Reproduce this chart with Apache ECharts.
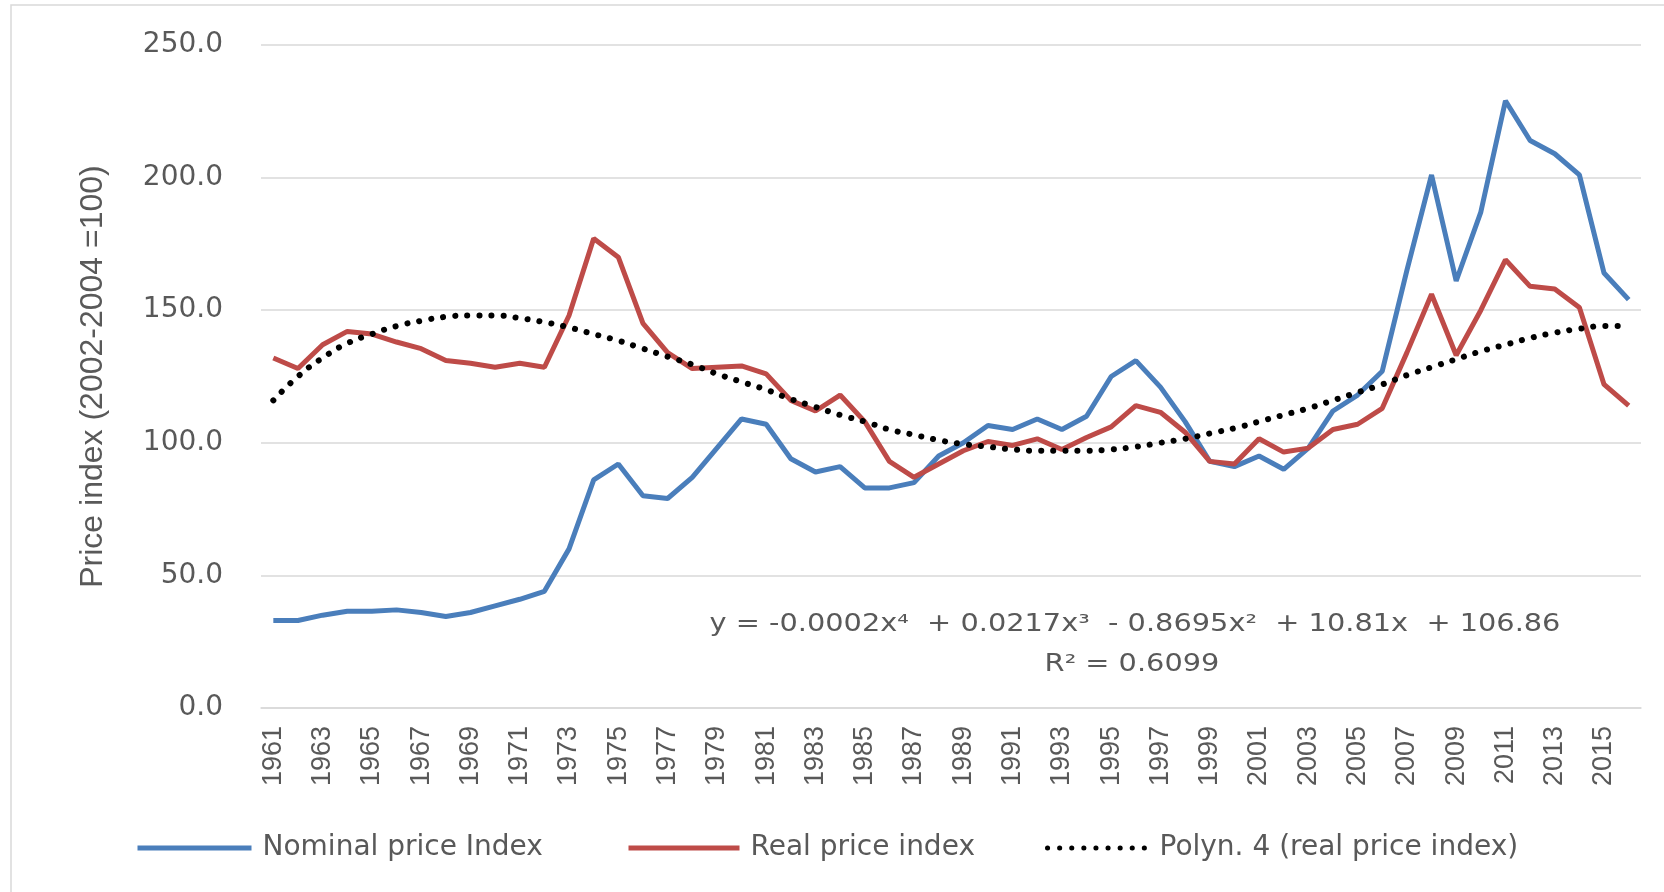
<!DOCTYPE html>
<html>
<head>
<meta charset="utf-8">
<title>Price index</title>
<script src="https://cdn.jsdelivr.net/npm/echarts@6/dist/echarts.min.js"></script>
<style>
  html, body { margin: 0; padding: 0; background: #fff; }
  #line-chart { width: 1664px; height: 892px; }
</style>
</head>
<body>
<div id="line-chart"></div>
<script>
var years = [];
for (var y = 1961; y <= 2016; y++) years.push(String(y));

var yTicks = [0, 50, 100, 150, 200, 250];

// Nominal price Index
var nominal = [33, 33, 35, 36.5, 36.5, 37, 36, 34.5, 36, 38.5,
    41, 44, 60, 86, 92, 80, 79, 87, 98, 109,
    107, 94, 89, 91, 83, 83, 85, 95, 100, 106.5,
    105, 109, 105, 110, 125, 131, 121, 108, 93, 91,
    95, 90, 98, 112, 118, 127, 165, 201, 161, 187,
    229, 214, 209, 201, 164, 154];

// Real price index
var real = [132, 128, 137, 142, 141, 138, 135.5, 131, 130, 128.5,
    130, 128.5, 148, 177, 170, 145, 134, 128, 128.5, 129,
    126, 116, 112, 118, 108, 93, 87, 92, 97, 100.5,
    99, 101.5, 97.5, 102, 106, 114, 111.5, 104, 93, 92,
    101.5, 96.5, 98, 105, 107, 113, 134, 156, 133, 150,
    169, 159, 158, 151, 122, 114];

// Polyn. 4 trend
var trend = [116, 125, 132, 137.5, 141, 144, 146, 147.5, 148, 148,
    147, 145.5, 143.5, 141, 138.5, 135.5, 132.5, 129.5, 126, 123,
    120, 116.5, 113.5, 110.5, 108, 105, 103, 101, 99.5, 98.5,
    97.5, 97, 97, 97, 97.5, 98.5, 100, 101.5, 103.5, 105.5,
    108, 110.5, 113, 116, 119, 122, 125.5, 128.5, 131.5, 134.5,
    137, 139.5, 141.5, 143, 144, 144];

var seriesNames = ['Nominal price Index', 'Real price index', 'Polyn. 4 (real price index)'];
var eqText = 'y = -0.0002x\u2074  + 0.0217x\u00b3  - 0.8695x\u00b2  + 10.81x  + 106.86';
var r2Text = 'R\u00b2 = 0.6099';

var GREY = '#595959';
var WIDE = "'DejaVu Sans', Verdana, sans-serif";
var NARROW = "'Liberation Sans Narrow', 'Liberation Sans', sans-serif";

function legendItem(name, left, width) {
    return {
        data: [name],
        bottom: 30,
        left: left,
        padding: 0,
        itemWidth: width,
        itemHeight: 10,
        itemStyle: { opacity: 0 },
        lineStyle: { width: 5 },
        textStyle: {
            color: GREY,
            fontFamily: WIDE,
            fontSize: 28,
            padding: [0, 0, 0, 6]
        }
    };
}

function LineChart() {
    var dom = document.getElementById('line-chart');
    var myChart = echarts.init(dom);
    var option = {
        animation: false,
        color: ['#4a7ebb', '#be4b48', '#000000'],
        grid: {
            left: 261,
            right: 23,
            top: 45,
            bottom: 184
        },
        legend: [
            legendItem(seriesNames[0], 135, 114),
            legendItem(seriesNames[1], 626, 111),
            legendItem(seriesNames[2], 1045, 101)
        ],
        xAxis: {
            type: 'category',
            data: years,
            boundaryGap: true,
            axisLine: { lineStyle: { color: '#d9d9d9', width: 1.5 } },
            axisTick: { show: false },
            axisLabel: {
                interval: 1,
                rotate: 90,
                margin: 18,
                color: GREY,
                fontFamily: NARROW,
                fontSize: 27
            }
        },
        yAxis: {
            type: 'value',
            min: yTicks[0],
            max: yTicks[yTicks.length - 1],
            interval: 50,
            name: 'Price index (2002-2004 =100)',
            nameLocation: 'middle',
            nameGap: 152,
            nameTextStyle: {
                color: GREY,
                fontFamily: NARROW,
                fontSize: 32
            },
            axisLine: { show: false },
            axisTick: { show: false },
            splitLine: { lineStyle: { color: '#d9d9d9', width: 1.5 } },
            axisLabel: {
                margin: 38,
                color: GREY,
                fontFamily: WIDE,
                fontSize: 28,
                formatter: function (v) { return v.toFixed(1); }
            }
        },
        series: [{
            name: seriesNames[0],
            type: 'line',
            data: nominal,
            symbol: 'none',
            lineStyle: { width: 5 }
        }, {
            name: seriesNames[1],
            type: 'line',
            data: real,
            symbol: 'none',
            lineStyle: { width: 5 }
        }, {
            name: seriesNames[2],
            type: 'line',
            data: trend,
            symbol: 'none',
            smooth: true,
            z: 3,
            lineStyle: { width: 6, type: [0.1, 12], cap: 'round' }
        }],
        graphic: [{
            type: 'rect',
            shape: { x: 11, y: 5, width: 1700, height: 950 },
            style: { fill: null, stroke: '#d9d9d9', lineWidth: 1.5 },
            silent: true
        }, {
            type: 'text',
            x: 1135,
            y: 625,
            scaleX: 1.2,
            style: {
                text: eqText,
                fill: GREY,
                font: '24px ' + WIDE,
                textAlign: 'center',
                textVerticalAlign: 'middle'
            }
        }, {
            type: 'text',
            x: 1132,
            y: 665,
            scaleX: 1.2,
            style: {
                text: r2Text,
                fill: GREY,
                font: '24px ' + WIDE,
                textAlign: 'center',
                textVerticalAlign: 'middle'
            }
        }]
    };

    if (option && typeof option === 'object') {
        myChart.setOption(option, true);
    }
}

LineChart();
</script>
</body>
</html>
